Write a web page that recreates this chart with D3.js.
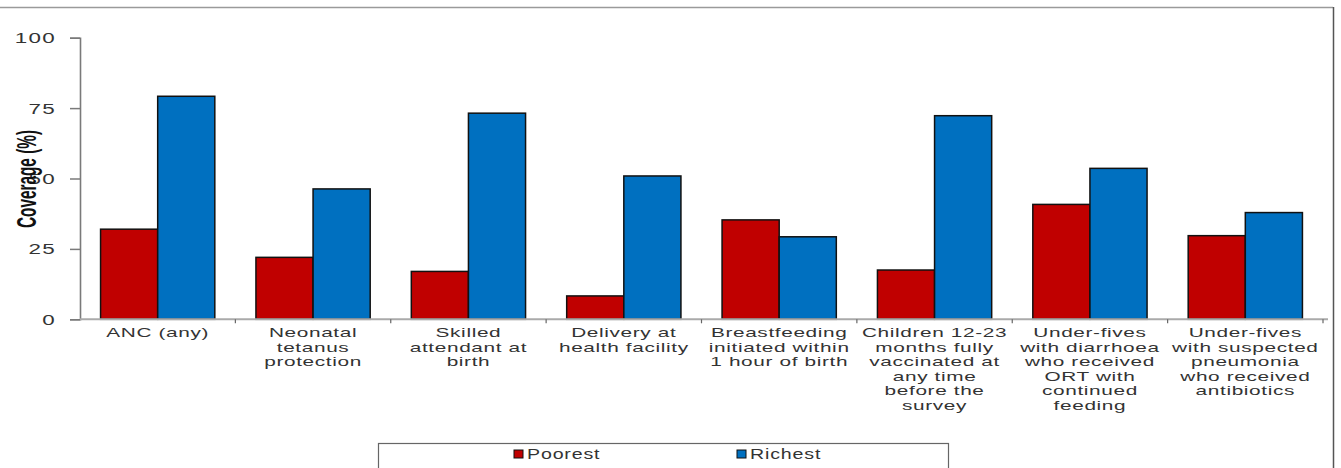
<!DOCTYPE html>
<html>
<head>
<meta charset="utf-8">
<script src="https://cdn.jsdelivr.net/npm/d3@7"></script>
<style>
  html, body { margin: 0; padding: 0; background: #fff; }
  svg { display: block; }
</style>
</head>
<body>
<svg id="chart" width="1341" height="468"></svg>
<script>
// Coverage indicators, poorest vs richest quintile
const categories = [
  ["ANC (any)"],
  ["Neonatal", "tetanus", "protection"],
  ["Skilled", "attendant at", "birth"],
  ["Delivery at", "health facility"],
  ["Breastfeeding", "initiated within", "1 hour of birth"],
  ["Children 12-23", "months fully", "vaccinated at", "any time", "before the", "survey"],
  ["Under-fives", "with diarrhoea", "who received", "ORT with", "continued", "feeding"],
  ["Under-fives", "with suspected", "pneumonia", "who received", "antibiotics"]
];
const seriesNames = ["Poorest", "Richest"];
const poorest = [32, 22, 17, 8.3, 35.3, 17.5, 40.8, 29.7];
const richest = [79.2, 46.3, 73.2, 50.9, 29.3, 72.3, 53.6, 37.9];
const yTicks = [0, 25, 50, 75, 100];
const colors = ["#c00000", "#0070c0"];

// text is drawn horizontally widened
const stretch = 1.6;
const font = "'Liberation Sans', Arial, sans-serif";

const svg = d3.select("#chart");
const plotLeft = 80, plotRight = 1323, plotTop = 37.7, plotBottom = 319.3;

const x = d3.scaleBand()
  .domain(d3.range(categories.length))
  .range([plotLeft, plotRight])
  .paddingInner(0)
  .paddingOuter(0);
const inner = d3.scaleBand()
  .domain(seriesNames)
  .range([0, x.bandwidth()])
  .paddingInner(0)
  .paddingOuter(0.36);
const y = d3.scaleLinear().domain([0, 100]).range([plotBottom, plotTop]);

// frame lines
svg.append("line").attr("x1", 0).attr("x2", 1333).attr("y1", 7.5).attr("y2", 7.5)
  .attr("stroke", "#9a9a9a").attr("stroke-width", 1.5);
svg.append("line").attr("x1", 1333.5).attr("x2", 1333.5).attr("y1", 7).attr("y2", 468)
  .attr("stroke", "#555").attr("stroke-width", 1.5);

// bars
const rows = categories.map((c, i) => ({ i, vals: [poorest[i], richest[i]] }));
const groups = svg.append("g").selectAll("g").data(rows).join("g")
  .attr("transform", d => `translate(${x(d.i)},0)`);
groups.selectAll("rect").data(d => d.vals.map((v, k) => ({ k, v })))
  .join("rect")
  .attr("x", d => inner(seriesNames[d.k]))
  .attr("width", inner.bandwidth())
  .attr("y", d => y(d.v))
  .attr("height", d => y(0) - y(d.v))
  .attr("fill", d => colors[d.k])
  .attr("stroke", "#111")
  .attr("stroke-width", 1.5);

// y axis
const yAxis = svg.append("g").attr("transform", `translate(${plotLeft},0)`)
  .call(d3.axisLeft(y).tickValues(yTicks).tickSize(10));
yAxis.select(".domain").attr("stroke", "#7a7a7a").attr("stroke-width", 1.6);
yAxis.selectAll(".tick line").attr("stroke", "#7a7a7a").attr("stroke-width", 1.5);
yAxis.selectAll(".tick text")
  .attr("x", 0).attr("dy", "0.36em")
  .attr("transform", `translate(-24,0) scale(${stretch},1)`)
  .attr("font-family", font)
  .attr("font-size", 14).attr("fill", "#333").attr("letter-spacing", "0.8px");

// x axis
const xAxis = svg.append("g").attr("transform", `translate(0,${plotBottom})`);
xAxis.append("line").attr("x1", plotLeft).attr("x2", plotRight + 5)
  .attr("y1", 0).attr("y2", 0).attr("stroke", "#aaa").attr("stroke-width", 2);
xAxis.selectAll("line.tk").data(d3.range(1, categories.length + 1)).join("line")
  .attr("class", "tk")
  .attr("x1", d => x(0) + d * x.step()).attr("x2", d => x(0) + d * x.step())
  .attr("y1", 0).attr("y2", 4).attr("stroke", "#666").attr("stroke-width", 1.2);

const lab = svg.append("g").selectAll("text").data(rows).join("text")
  .attr("transform", d => `translate(${x(d.i) + x.bandwidth() / 2},337) scale(${stretch},1)`)
  .attr("text-anchor", "middle")
  .attr("font-family", font)
  .attr("font-size", 13)
  .attr("letter-spacing", "0.4px")
  .attr("fill", "#333");
lab.selectAll("tspan").data(d => categories[d.i])
  .join("tspan")
  .attr("x", 0)
  .attr("dy", (d, j) => j === 0 ? 0 : 14.6)
  .text(d => d);

// y title drawn over the tick labels
svg.append("text")
  .attr("transform", `translate(26,179) scale(${stretch},1) rotate(-90)`)
  .attr("text-anchor", "middle")
  .attr("dy", "0.35em")
  .attr("font-family", "'Liberation Sans Narrow', 'Arial Narrow', sans-serif")
  .attr("font-weight", "bold")
  .attr("font-size", 17)
  .attr("textLength", 98)
  .attr("lengthAdjust", "spacingAndGlyphs")
  .attr("fill", "#111")
  .text("Coverage (%)");

// legend
const leg = svg.append("g");
leg.append("rect").attr("x", 378.5).attr("y", 443.5).attr("width", 570).attr("height", 30)
  .attr("fill", "#fff").attr("stroke", "#666").attr("stroke-width", 1.2);
const legX = [514, 737];
seriesNames.forEach((s, k) => {
  leg.append("rect").attr("x", legX[k]).attr("y", 450).attr("width", 9).attr("height", 8)
    .attr("fill", colors[k]).attr("stroke", "#111").attr("stroke-width", 1);
  leg.append("text")
    .attr("transform", `translate(${legX[k] + 13},459) scale(1.4,1)`)
    .attr("font-family", font)
    .attr("font-size", 14).attr("letter-spacing", "0.6px").attr("fill", "#333")
    .text(s);
});
</script>
</body>
</html>
